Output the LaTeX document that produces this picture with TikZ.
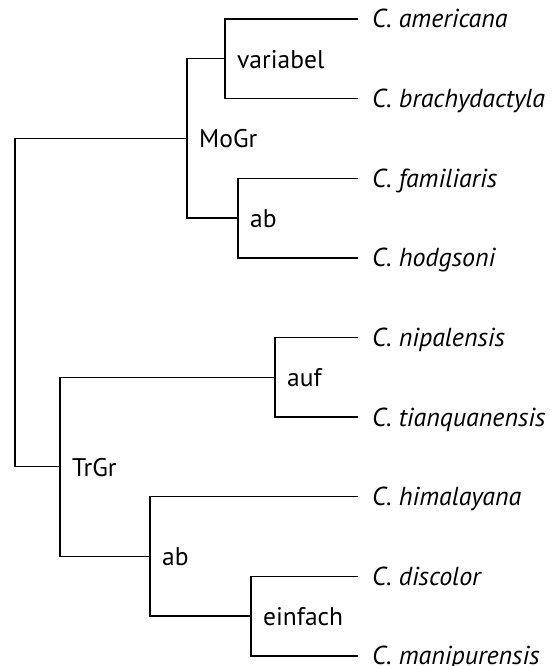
\documentclass[tikz,border=0pt]{standalone}
\usepackage{fontspec}
\setmainfont{PT Sans}
\begin{document}
\begin{tikzpicture}[x=1pt,y=-1pt,
  branch/.style={line width=1.4pt, black},
  leaflabel/.style={anchor=base west, inner sep=0pt, font=\fontsize{26}{30}\selectfont\itshape, yshift=-9pt, xshift=14pt},
  cladelabel/.style={anchor=base west, inner sep=0pt, font=\fontsize{25.5}{30}\selectfont, yshift=-9.5pt, xshift=12pt}]
\useasboundingbox (0,0) rectangle (559,666);
% leaf ends
\coordinate (l1) at (358,19);
\coordinate (l2) at (358,98.6);
\coordinate (l3) at (358,178.2);
\coordinate (l4) at (358,257.8);
\coordinate (l5) at (358,337.4);
\coordinate (l6) at (358,417);
\coordinate (l7) at (358,496.6);
\coordinate (l8) at (358,576.2);
\coordinate (l9) at (358,655.8);
% internal junctions
\coordinate (var) at (225,58.8);
\coordinate (abT) at (238,218);
\coordinate (mogr) at (187,138.4);
\coordinate (auf) at (275,377.2);
\coordinate (ein) at (251,616);
\coordinate (abB) at (150,556.3);
\coordinate (trgr) at (60,466.75);
\coordinate (root) at (15,302.6);
% branches
\draw[branch] (l1) -| (var) |- (l2);
\draw[branch] (l3) -| (abT) |- (l4);
\draw[branch] (var) -| (mogr) |- (abT);
\draw[branch] (l5) -| (auf) |- (l6);
\draw[branch] (l8) -| (ein) |- (l9);
\draw[branch] (l7) -| (abB) |- (ein);
\draw[branch] (auf) -| (trgr) |- (abB);
\draw[branch] (mogr) -| (root) |- (trgr);
% leaf labels
\node[leaflabel] (t1) at (l1) {C. americana};
\node[leaflabel] (t2) at (l2) {C. brachydactyla};
\node[leaflabel] (t3) at (l3) {C. familiaris};
\node[leaflabel] (t4) at (l4) {C. hodgsoni};
\node[leaflabel] (t5) at (l5) {C. nipalensis};
\node[leaflabel] (t6) at (l6) {C. tianquanensis};
\node[leaflabel] (t7) at (l7) {C. himalayana};
\node[leaflabel] (t8) at (l8) {C. discolor};
\node[leaflabel] (t9) at (l9) {C. manipurensis};
% clade labels
\node[cladelabel] (c1) at (var) {variabel};
\node[cladelabel] (c2) at (abT) {ab};
\node[cladelabel] (c3) at (mogr) {MoGr};
\node[cladelabel] (c4) at (auf) {auf};
\node[cladelabel] (c5) at (ein) {einfach};
\node[cladelabel] (c6) at (abB) {ab};
\node[cladelabel] (c7) at (trgr) {TrGr};
\end{tikzpicture}
\end{document}
